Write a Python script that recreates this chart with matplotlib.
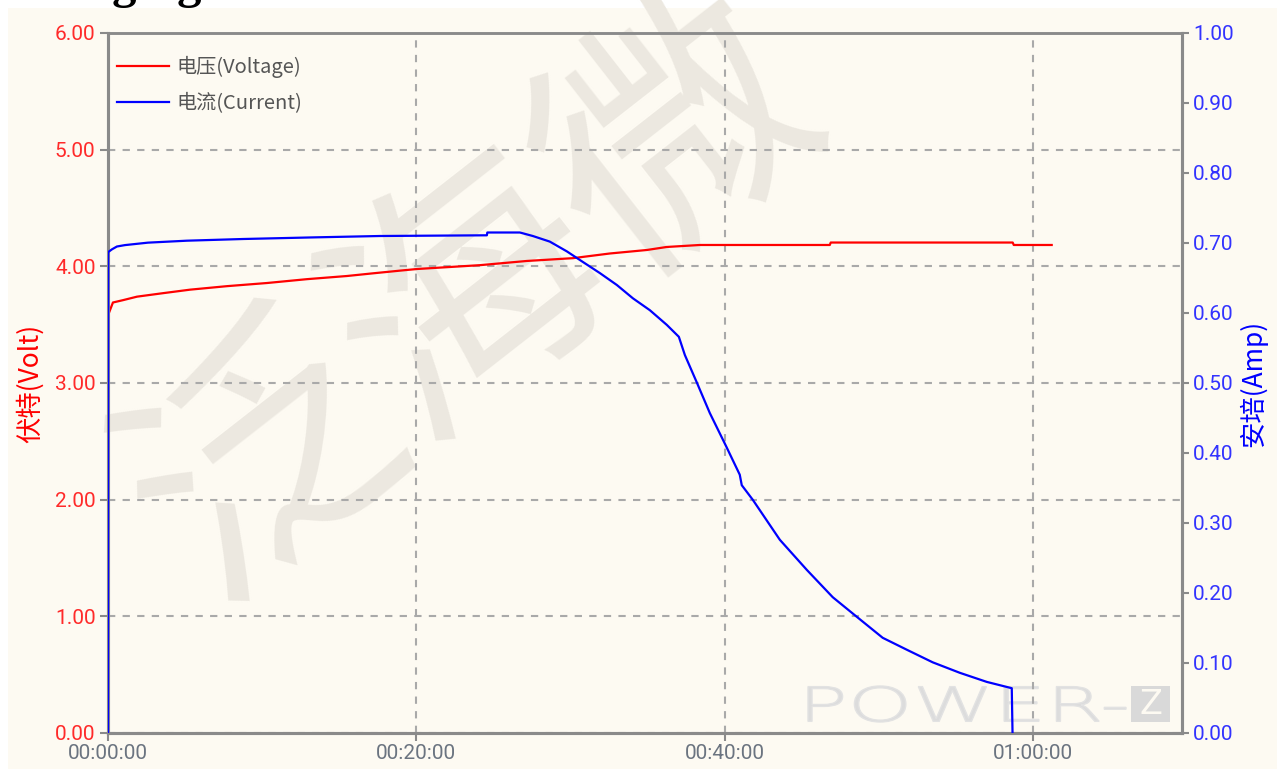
import matplotlib
matplotlib.use("Agg")
import matplotlib.pyplot as plt
from matplotlib.ticker import FuncFormatter, MultipleLocator, FixedLocator
from matplotlib.textpath import TextPath
from matplotlib.font_manager import FontProperties
from matplotlib.patches import PathPatch, Rectangle
from matplotlib.transforms import Affine2D, IdentityTransform

# ---------------- data (time in minutes) ----------------
time_v = [0.0, 0.32, 0.97, 1.88, 3.57, 5.32, 7.71, 10.31, 12.90, 15.49, 17.18,
          18.93, 20.03, 24.12, 27.16, 30.15, 32.54, 34.94, 36.24, 38.38, 46.81,
          46.87, 58.67, 58.74, 61.2]
voltage = [3.58, 3.69, 3.71, 3.74, 3.77, 3.80, 3.83, 3.857, 3.89, 3.917, 3.94,
           3.963, 3.977, 4.01, 4.046, 4.07, 4.11, 4.14, 4.166, 4.183, 4.183,
           4.204, 4.204, 4.183, 4.183]

time_i = [0.0, 0.01, 0.26, 0.58, 1.10, 2.59, 5.12, 8.75, 13.29, 17.63, 24.57,
          24.60, 26.71, 27.55, 28.65, 29.76, 30.79, 31.90, 33.00, 34.04, 35.14,
          36.24, 37.02, 37.41, 38.18, 39.03, 40.10, 40.97, 41.10, 41.82, 43.57,
          45.32, 47.00, 48.56, 50.24, 51.80, 53.48, 55.24, 56.99, 58.61, 58.66]
current = [0.0, 0.687, 0.691, 0.695, 0.697, 0.7005, 0.7033, 0.7057, 0.708, 0.710,
           0.711, 0.715, 0.715, 0.710, 0.702, 0.688, 0.673, 0.657, 0.640, 0.621,
           0.604, 0.583, 0.566, 0.540, 0.501, 0.457, 0.409, 0.369, 0.354, 0.333,
           0.276, 0.233, 0.194, 0.166, 0.136, 0.119, 0.101, 0.086, 0.073, 0.064, 0.0]

x_ticks = [0, 20, 40, 60]
v_ticks = [0, 1, 2, 3, 4, 5, 6]
legend_labels = ["电压(Voltage)", "电流(Current)"]
left_label = "伏特(Volt)"
right_label = "安培(Amp)"

W, H = 1277, 769
CREAM = "#FDFAF2"
GRID = "#a9a9a9"
SPINE = "#8a8a8a"
RED = "#FF0000"
BLUE = "#0000FF"
TICKC = "#6b7480"

plt.rcParams['font.family'] = ['Roboto', 'Noto Sans CJK SC', 'DejaVu Sans']

fig = plt.figure(figsize=(W / 100, H / 100), dpi=100, facecolor="white")
# cream background panel
fig.add_artist(Rectangle((8 / W, 0), 1 - 8 / W, 1 - 8 / H, transform=fig.transFigure,
                         facecolor=CREAM, edgecolor="none", zorder=-10))

# partially visible title at very top (clipped in the reference)
fig.text(202 / W, 1 + 2 / H, "Charging", ha="right", va="baseline",
         fontsize=35, fontweight="bold", family=["Liberation Serif"], color="black")

L, R, T, B = 108, 1182, 33, 733
ax = fig.add_axes([L / W, 1 - B / H, (R - L) / W, (B - T) / H])
ax.set_facecolor(CREAM)
ax2 = ax.twinx()

# watermark
ax.text(0.34, 0.62, "泛海微", transform=ax.transAxes, rotation=38, ha="center",
        va="center", fontsize=190, color="#ece8e0", family=["Noto Sans CJK SC"],
        fontweight="light", zorder=0.2)

# POWER-Z logo (inside axes, beneath the curves)
fp = FontProperties(family="DejaVu Sans", weight="light")
tp = TextPath((0, 0), "POWER-", size=100, prop=fp)
bb = tp.get_extents()
sx = (1126 - 808) / bb.width
sy = (722 - 686) / bb.height
tr = Affine2D().translate(-bb.x0, -bb.y0).scale(sx, sy).translate(808, H - 722)
logo = PathPatch(tr.transform_path(tp), facecolor="#dcdcdc", edgecolor="#e2e2e2",
                 linewidth=1.0, transform=IdentityTransform(), zorder=0.3)
ax.add_artist(logo)
ax.add_artist(Rectangle((1131 / W, 1 - 722 / H), 39 / W, 36 / H, transform=fig.transFigure,
                        facecolor="#d9d9d9", edgecolor="none", zorder=0.3))
ax.text(1150.5 / W, 1 - 704 / H, "Z", transform=fig.transFigure, ha="center", va="center",
        fontsize=24, color=CREAM, family=["DejaVu Sans"], zorder=0.35)

# grid
ax.set_axisbelow(False)
ax.xaxis.set_major_locator(FixedLocator(x_ticks))
ax.yaxis.set_major_locator(FixedLocator(v_ticks))
ax.grid(True, color=GRID, linestyle=(0, (3.5, 3.5)), linewidth=1.5, zorder=0.5)

lv, = ax.plot(time_v, voltage, color=RED, linewidth=1.6, zorder=3)
li, = ax2.plot(time_i, current, color=BLUE, linewidth=1.6, zorder=3)

ax.set_xlim(0, 69.65)
ax.set_ylim(0, 6)
ax2.set_ylim(0, 1)
ax2.yaxis.set_major_locator(MultipleLocator(0.1))

ax.xaxis.set_major_formatter(FuncFormatter(
    lambda v, p: "%02d:%02d:%02d" % (int(v) // 60, int(v) % 60, int(round((v - int(v)) * 60)))))
ax.yaxis.set_major_formatter(FuncFormatter(lambda v, p: "%.2f" % v))
ax2.yaxis.set_major_formatter(FuncFormatter(lambda v, p: "%.2f" % v))

for a in (ax, ax2):
    for s in a.spines.values():
        s.set_color(SPINE)
        s.set_linewidth(2.2)
    a.spines["top"].set_linewidth(1.8)

ax.tick_params(axis="x", colors=SPINE, labelcolor=TICKC, labelsize=15, length=6, width=1.5, pad=2)
ax.tick_params(axis="y", colors=SPINE, labelcolor="#FF2A2A", labelsize=15, length=6, width=1.5, pad=3)
ax2.tick_params(axis="y", colors=SPINE, labelcolor="#3333FF", labelsize=15, length=5, width=1.5, pad=3)

ax.set_ylabel(left_label, color=RED, fontsize=19, family=["Noto Sans CJK SC"], labelpad=8)
ax2.set_ylabel(right_label, color=BLUE, fontsize=19, family=["Noto Sans CJK SC"], labelpad=4)

leg = ax2.legend([lv, li], legend_labels, loc="upper left", frameon=False,
                 bbox_to_anchor=((117 - L) / (R - L), 1 - (56 - T) / (B - T)),
                 borderpad=0, borderaxespad=0, handlelength=2.6, handletextpad=0.35,
                 labelspacing=0.75, prop=FontProperties(family=["Noto Sans CJK SC"], size=14.5))
for t in leg.get_texts():
    t.set_color("#555555")
for h in leg.get_lines():
    h.set_linewidth(1.6)

fig.savefig("out.png", dpi=100, facecolor=fig.get_facecolor())
